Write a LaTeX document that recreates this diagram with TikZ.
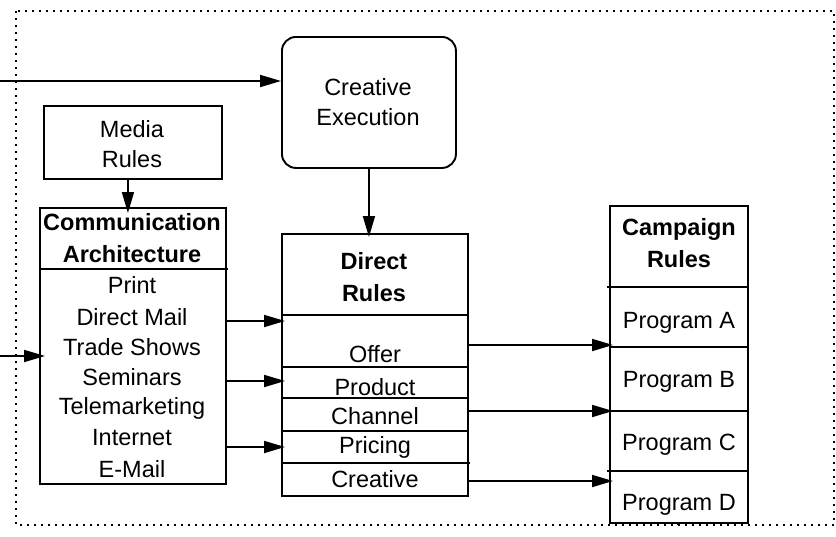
\documentclass[tikz,border=0pt]{standalone}
\usepackage{fontspec}
\setmainfont{Liberation Sans}
\usetikzlibrary{arrows.meta}
\begin{document}
\begin{tikzpicture}[x=1pt,y=-1pt,
  box/.style={draw,line width=1.9pt,inner sep=0pt,anchor=north west},
  lbl/.style={font=\fontsize{23.5}{30}\selectfont,align=center,inner sep=0pt,anchor=north},
  hdr/.style={font=\fontsize{23.5}{32}\selectfont\bfseries,align=center,inner sep=0pt,anchor=north},
  itm/.style={font=\fontsize{23.5}{30}\selectfont,inner sep=0pt,anchor=base},
  arr/.style={line width=1.9pt,-{Triangle[length=21pt,width=12pt]},shorten >=-4pt},
  sep/.style={line width=1.9pt}]
  \useasboundingbox (0,0) rectangle (836,536);
  % dotted frame
  \draw[line width=2pt,dash pattern=on 2pt off 5pt] (16,11) rectangle (834,525);
  % boxes
  \node[box,rounded corners=14pt,minimum width=174pt,minimum height=131pt] (ce) at (281,36) {};
  \node[box,minimum width=178pt,minimum height=73pt] (media) at (43,105) {};
  \node[box,minimum width=186pt,minimum height=276pt] (comm) at (39,207) {};
  \node[box,minimum width=186pt,minimum height=262pt] (dr) at (281,233) {};
  \node[box,minimum width=138pt,minimum height=317pt] (cr) at (609,205) {};
  % row separators
  \draw[sep] (39,269) -- (228,269);
  \foreach \yy in {315,367,398,431} {
    \draw[sep] (281,\yy) -- (467,\yy);
  }
  \draw[sep] (281,463) -- (470,463);
  \foreach \yy in {347,411} {
    \draw[sep] (609,\yy) -- (747,\yy);
  }
  \foreach \yy in {287,471} {
    \draw[sep] (607,\yy) -- (747,\yy);
  }
  % texts
  \node[lbl] (cetxt) at (368,78.5) {Creative\\Execution};
  \node[lbl] (mediatxt) at (132,120.5) {Media\\Rules};
  \node[hdr] (commhd) at (132,213.5) {Communication\\Architecture};
  \node[hdr] (drhd) at (374,252.5) {Direct\\Rules};
  \node[hdr] (crhd) at (679,218.5) {Campaign\\Rules};
  \foreach \t/\yb [count=\i] in {Print/293,Direct Mail/325,Trade Shows/355,Seminars/385,Telemarketing/414,Internet/445,E-Mail/477} {
    \node[itm] (ca\i) at (132,\yb) {\t};
  }
  \foreach \t/\yb [count=\i] in {Offer/362,Product/395,Channel/424,Pricing/453,Creative/487} {
    \node[itm] (dr\i) at (375,\yb) {\t};
  }
  \foreach \t/\yb [count=\i] in {Program A/328,Program B/387,Program C/450,Program D/510} {
    \node[itm] (cr\i) at (679,\yb) {\t};
  }
  % connectors
  \coordinate (inTop) at (0,81);
  \coordinate (inLeft) at (0,356);
  \draw[arr,shorten >=0pt] (inTop) -- (ce.west |- inTop);
  \draw[arr,shorten >=-6pt] (inLeft) -- (comm.west |- inLeft);
  \draw[arr,shorten >=-6pt] ([xshift=-5pt]media.south) -- ([xshift=-5pt]comm.north);
  \draw[arr] (ce.south) -- (ce.south |- dr.north);
  \foreach \yy in {321,381,447} {
    \draw[arr] (comm.east |- 0,\yy) -- (dr.west |- 0,\yy);
  }
  \foreach \yy in {345,411,481} {
    \draw[arr] (dr.east |- 0,\yy) -- (cr.west |- 0,\yy);
  }
  \draw[sep] ([xshift=-1pt]cr.south) -- ([xshift=-1pt]cr.south |- 0,525);
\end{tikzpicture}
\end{document}
